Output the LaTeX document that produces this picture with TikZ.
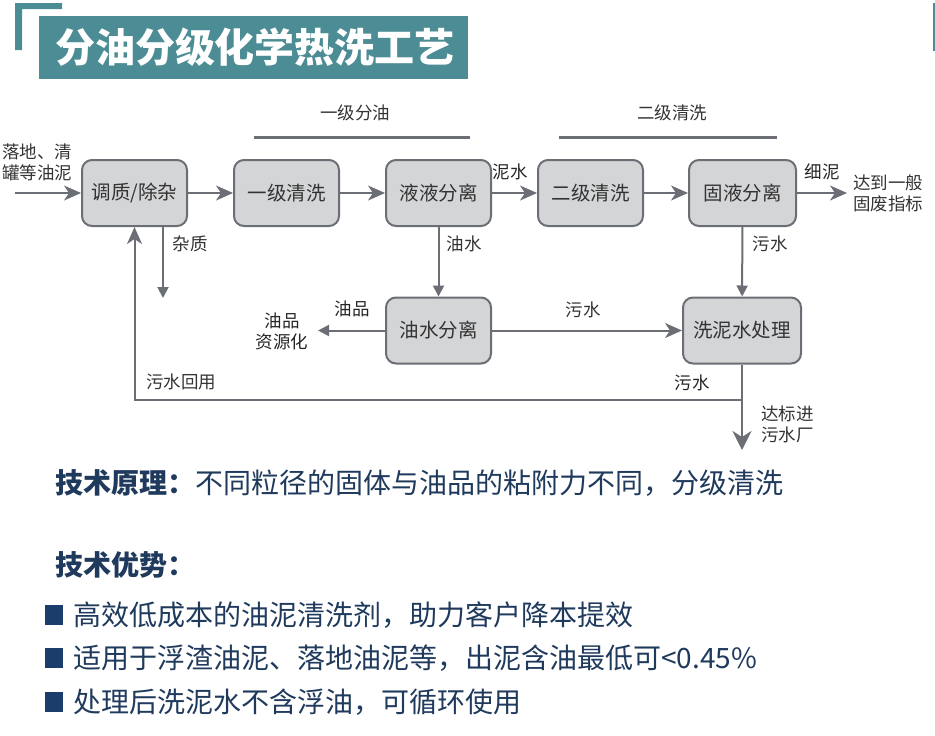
\documentclass[tikz,border=0pt]{standalone}
\usepackage{fontspec}
\setmainfont{Noto Sans CJK SC}
\usetikzlibrary{arrows.meta}
\definecolor{teal1}{HTML}{4C8C94}
\definecolor{gline}{HTML}{6B6E75}
\definecolor{gbox}{HTML}{D4D5D7}
\definecolor{navy}{HTML}{1F3A5C}
\definecolor{navyb}{HTML}{1B3D6B}
\definecolor{txt}{HTML}{333333}

\begin{document}
\begin{tikzpicture}[x=1pt,y=-1pt,inner sep=0pt,
  box/.style={draw=gline,fill=gbox,line width=2pt,rounded corners=10pt,minimum width=105pt,minimum height=66pt,text=txt,font=\fontsize{19.5}{19.5}\selectfont},
  lab/.style={text=txt,align=left,font=\fontsize{17.5}{21}\selectfont},
  flow/.style={draw=gline,line width=2pt},
  big/.style={-{Stealth[length=17pt,width=15pt,inset=5pt]}},
  small/.style={-{Triangle[length=11pt,width=11pt]}},
  line/.style={text=navy,font=\fontsize{28}{28}\selectfont}]
\useasboundingbox (0,0) rectangle (935,736);

% header
\fill[teal1] (15,3) rectangle (22,50) (15,3) rectangle (62,9);
\fill[teal1] (39,16) rectangle (468,79);
\draw[teal1,line width=1.2pt] (934,3) -- (934,51);
\node[text=white,font=\fontsize{40}{40}\selectfont\bfseries] (title) at (255,47) {分油分级化学热洗工艺};

% boxes
\node[box] (tz) at (134.5,193) {调质/除杂};
\node[box] (qx1) at (286.5,193) {一级清洗};
\node[box] (yy) at (438.5,193) {液液分离};
\node[box] (qx2) at (590.5,193) {二级清洗};
\node[box,minimum width=107pt] (gy) at (742.5,193) {固液分离};
\node[box] (ys) at (438.5,330.5) {油水分离};
\node[box,minimum width=118pt] (xn) at (742,330.5) {洗泥水处理};

\coordinate (in) at (15,193);
\coordinate (out) at (847,193);
\coordinate (zz) at (163,298);
\coordinate (yp) at (318,330.5);
\coordinate (hl) at (742,400);
\coordinate (dis) at (742,450);

% top bars
\node[lab] (t1) at (355,113) {一级分油};
\draw[gline,line width=3pt] (254,137) -- (470,137);
\node[lab] (t2) at (672,113) {二级清洗};
\draw[gline,line width=3pt] (559,137) -- (777,137);

% flow
\draw[flow,big] (in) -- (tz);
\draw[flow,big] (tz) -- (qx1);
\draw[flow,big] (qx1) -- (yy);
\draw[flow,big] (yy) -- (qx2);
\draw[flow,big] (qx2) -- (gy);
\draw[flow,big] (gy) -- (out);
\draw[flow,small] (tz.south -| zz) -- (zz);
\draw[flow,small] (yy) -- (ys);
\draw[flow,small] (gy) -- (xn);
\draw[flow,small] (ys) -- (yp);
\draw[flow,big] (ys) -- (xn);
\draw[flow,line width=2.8pt,-{Stealth[length=19pt,width=19pt,inset=6pt]}] (xn.south) -- (dis);
\draw[flow,big] (hl) -- (tz.south |- hl) -- (tz.south);

% labels
\node[lab,anchor=west] (src) at (2,162) {落地、清\\罐等油泥};
\node[lab,text=black!85] (l1) at (510,172) {泥水};
\node[lab,text=black!85] (l2) at (822,172) {细泥};
\node[lab,anchor=west] (l3) at (853,193) {达到一般\\固废指标};
\node[lab] (l4) at (190,244) {杂质};
\node[lab] (l5) at (464,244) {油水};
\node[lab] (l6) at (770,244) {污水};
\node[lab,text=black!85] (l7) at (352,309) {油品};
\node[lab,align=center,text=black!85] (l8) at (282,331) {油品\\资源化};
\node[lab] (l9) at (583,310) {污水};
\node[lab] (l10) at (181,382) {污水回用};
\node[lab,text=black!85] (l11) at (692,383) {污水};
\node[lab,anchor=west] (l12) at (761,424) {达标进\\污水厂};

% text
\node[line,anchor=west] (p1) at (55,483) {{\bfseries 技术原理：}不同粒径的固体与油品的粘附力不同，分级清洗};
\node[line,anchor=west] (p2) at (55,565) {\bfseries 技术优势：};
\foreach \y/\s in {615/高效低成本的油泥清洗剂，助力客户降本提效,658/适用于浮渣油泥、落地油泥等，出泥含油最低可<0.45\%,702/处理后洗泥水不含浮油，可循环使用}{
  \fill[navyb] (45,\y-10) rectangle (63,\y+10);
  \node[line,anchor=west] (b\y) at (73,\y) {\s};
}
\end{tikzpicture}
\end{document}
